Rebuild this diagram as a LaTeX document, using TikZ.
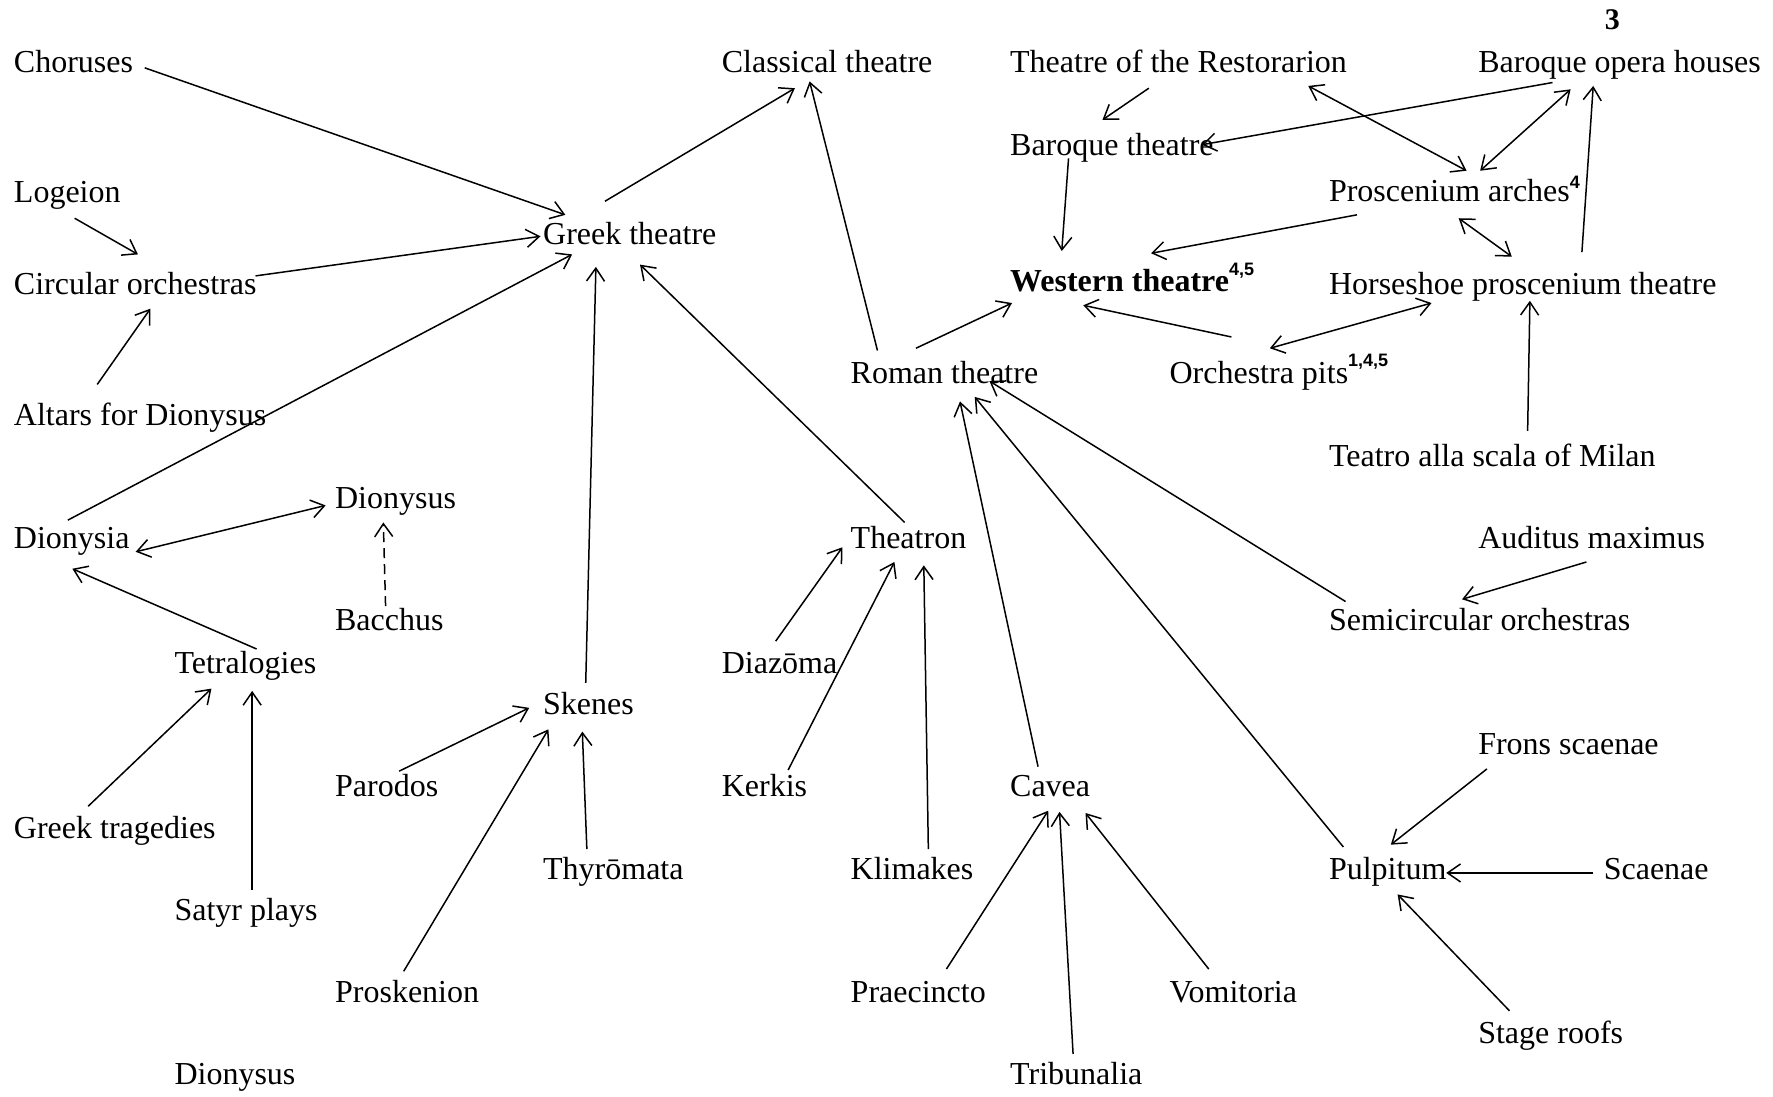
\documentclass[tikz,border=0pt]{standalone}
\usepackage{fontspec}
\setmainfont{Liberation Serif}
\newfontfamily\supfont{Liberation Sans}
\usetikzlibrary{arrows.meta}
\newcommand\supn[2]{\raisebox{#1}{\supfont\bfseries\fontsize{9}{10}\selectfont #2}}
\tikzset{
  lbl/.style={anchor=base west, inner sep=0pt, font=\fontsize{16}{19}\selectfont},
  arr/.style={line width=0.75pt, -{Straight Barb[length=6.5pt,width=9pt]}},
  darr/.style={line width=0.75pt, {Straight Barb[length=6.5pt,width=9pt]}-{Straight Barb[length=6.5pt,width=9pt]}},
}
\begin{document}
\begin{tikzpicture}[x=0.56536pt,y=-0.56536pt]
\useasboundingbox[fill=white] (0,0) rectangle (1568,970);
% nodes
\node[anchor=base, inner sep=0pt, font=\fontsize{15}{18}\selectfont\bfseries] (three) at (1426,26.5) {3};
\node[lbl] (chor) at (12,64.5) {Choruses};
\node[lbl] (clas) at (638,64.5) {Classical theatre};
\node[lbl] (rest) at (893,64.5) {Theatre of the Restorarion};
\node[lbl] (bop) at (1307,64.5) {Baroque opera houses};
\node[lbl] (bth) at (893,137.5) {Baroque theatre};
\node[lbl] (loge) at (12,179.5) {Logeion};
\node[lbl] (pros) at (1175,178.5) {Proscenium arches\supn{6.7pt}{4}};
\node[lbl] (greek) at (480,216.5) {Greek theatre};
\node[lbl] (circ) at (12,260.5) {Circular orchestras};
\node[lbl] (west) at (893,258) {\textbf{Western theatre}\supn{8.3pt}{4,5}};
\node[lbl] (horse) at (1175,260.5) {Horseshoe proscenium theatre};
\node[lbl] (roman) at (752,339.5) {Roman theatre};
\node[lbl] (pits) at (1034,339) {Orchestra pits\supn{8.3pt}{1,4,5}};
\node[lbl] (altar) at (12,376.5) {Altars for Dionysus};
\node[lbl] (teatro) at (1175,412.5) {Teatro alla scala of Milan};
\node[lbl] (dion1) at (296,449.5) {Dionysus};
\node[lbl] (dsia) at (12,485.5) {Dionysia};
\node[lbl] (theat) at (752,485.5) {Theatron};
\node[lbl] (audit) at (1307,485.5) {Auditus maximus};
\node[lbl] (bacc) at (296,557.5) {Bacchus};
\node[lbl] (semi) at (1175,557.5) {Semicircular orchestras};
\node[lbl] (tetra) at (154,595.5) {Tetralogies};
\node[lbl] (diaz) at (638,595.5) {Diazōma};
\node[lbl] (sken) at (480,631.5) {Skenes};
\node[lbl] (frons) at (1307,667.5) {Frons scaenae};
\node[lbl] (paro) at (296,704.5) {Parodos};
\node[lbl] (kerk) at (638,704.5) {Kerkis};
\node[lbl] (cavea) at (893,704.5) {Cavea};
\node[lbl] (gtrag) at (12,741.5) {Greek tragedies};
\node[lbl] (thyr) at (480,777.5) {Thyrōmata};
\node[lbl] (klim) at (752,777.5) {Klimakes};
\node[lbl] (pulp) at (1175,777.5) {Pulpitum};
\node[lbl] (scae) at (1418,777.5) {Scaenae};
\node[lbl] (satyr) at (154,814.5) {Satyr plays};
\node[lbl] (prosk) at (296,886.5) {Proskenion};
\node[lbl] (praec) at (752,886.5) {Praecincto};
\node[lbl] (vomi) at (1034,886.5) {Vomitoria};
\node[lbl] (stage) at (1307,922.5) {Stage roofs};
\node[lbl] (dion2) at (154,959.5) {Dionysus};
\node[lbl] (trib) at (893,959.5) {Tribunalia};
% connectors
\draw[arr] ([shift={(116,-4.5)}]chor.base west) -- ([shift={(20,-26.5)}]greek.base west);
\draw[arr] ([shift={(54,13.5)}]loge.base west) -- ([shift={(110,-35.5)}]circ.base west);
\draw[arr] ([shift={(214,-16.5)}]circ.base west) -- ([shift={(-2,-7.5)}]greek.base west);
\draw[arr] ([shift={(74,-36.5)}]altar.base west) -- ([shift={(121,12.5)}]circ.base west);
\draw[arr] ([shift={(48,-25.5)}]dsia.base west) -- ([shift={(26,8.5)}]greek.base west);
\draw[arr] ([shift={(55,-38.5)}]greek.base west) -- ([shift={(65,13.5)}]clas.base west);
\draw[arr] ([shift={(38,-27.5)}]sken.base west) -- ([shift={(47,19.5)}]greek.base west);
\draw[arr] ([shift={(48,-23.5)}]theat.base west) -- ([shift={(86,17.5)}]greek.base west);
\draw[arr] ([shift={(24,-29.5)}]roman.base west) -- ([shift={(78,7.5)}]clas.base west);
\draw[arr] ([shift={(58,-31.5)}]roman.base west) -- ([shift={(2,10)}]west.base west);
\draw[arr] ([shift={(52,2.5)}]bth.base west) -- ([shift={(46,-36)}]west.base west);
\draw[arr] ([shift={(123,13.5)}]rest.base west) -- ([shift={(82,-31.5)}]bth.base west);
\draw[arr] ([shift={(66,8.5)}]bop.base west) -- ([shift={(170,-9.5)}]bth.base west);
\draw[darr] ([shift={(264,11.5)}]rest.base west) -- ([shift={(122,-27.5)}]pros.base west);
\draw[darr] ([shift={(82,14.5)}]bop.base west) -- ([shift={(134,-27.5)}]pros.base west);
\draw[arr] ([shift={(224,-37.5)}]horse.base west) -- ([shift={(102,11.5)}]bop.base west);
\draw[arr] ([shift={(25,11.5)}]pros.base west) -- ([shift={(125,-34)}]west.base west);
\draw[darr] ([shift={(115,14.5)}]pros.base west) -- ([shift={(162,-33.5)}]horse.base west);
\draw[arr] ([shift={(55,-41)}]pits.base west) -- ([shift={(65,12)}]west.base west);
\draw[darr] ([shift={(89,-31)}]pits.base west) -- ([shift={(91,7.5)}]horse.base west);
\draw[arr] ([shift={(176,-31.5)}]teatro.base west) -- ([shift={(178,5.5)}]horse.base west);
\draw[darr] ([shift={(108,2.5)}]dsia.base west) -- ([shift={(-8,-2.5)}]dion1.base west);
\draw[arr, dash pattern=on 5pt off 3pt] ([shift={(45,-21.5)}]bacc.base west) -- ([shift={(43,12.5)}]dion1.base west);
\draw[arr] ([shift={(73,-21.5)}]tetra.base west) -- ([shift={(52,17.5)}]dsia.base west);
\draw[arr] ([shift={(66,-28.5)}]gtrag.base west) -- ([shift={(33,13.5)}]tetra.base west);
\draw[arr] ([shift={(69,-27.5)}]satyr.base west) -- ([shift={(69,15.5)}]tetra.base west);
\draw[arr] ([shift={(57,-22.5)}]paro.base west) -- ([shift={(-12,-5.5)}]sken.base west);
\draw[arr] ([shift={(61,-27.5)}]prosk.base west) -- ([shift={(5,13.5)}]sken.base west);
\draw[arr] ([shift={(39,-26.5)}]thyr.base west) -- ([shift={(35,15.5)}]sken.base west);
\draw[arr] ([shift={(48,-28.5)}]diaz.base west) -- ([shift={(-7,-1.5)}]theat.base west);
\draw[arr] ([shift={(59,-23.5)}]kerk.base west) -- ([shift={(39,11.5)}]theat.base west);
\draw[arr] ([shift={(69,-26.5)}]klim.base west) -- ([shift={(65,14.5)}]theat.base west);
\draw[arr] ([shift={(25,-26.5)}]cavea.base west) -- ([shift={(97,15.5)}]roman.base west);
\draw[arr] ([shift={(13,-28.5)}]pulp.base west) -- ([shift={(110,11.5)}]roman.base west);
\draw[arr] ([shift={(15,-25.5)}]semi.base west) -- ([shift={(123,-2.5)}]roman.base west);
\draw[arr] ([shift={(96,11.5)}]audit.base west) -- ([shift={(118,-27.5)}]semi.base west);
\draw[arr] ([shift={(85,-29.5)}]praec.base west) -- ([shift={(34,12.5)}]cavea.base west);
\draw[arr] ([shift={(56,-27.5)}]trib.base west) -- ([shift={(44,13.5)}]cavea.base west);
\draw[arr] ([shift={(35,-29.5)}]vomi.base west) -- ([shift={(67,14.5)}]cavea.base west);
\draw[arr] ([shift={(8,12.5)}]frons.base west) -- ([shift={(55,-30.5)}]pulp.base west);
\draw[arr] ([shift={(-9,-5.5)}]scae.base west) -- ([shift={(104,-5.5)}]pulp.base west);
\draw[arr] ([shift={(28,-28.5)}]stage.base west) -- ([shift={(61,13.5)}]pulp.base west);
\end{tikzpicture}
\end{document}
